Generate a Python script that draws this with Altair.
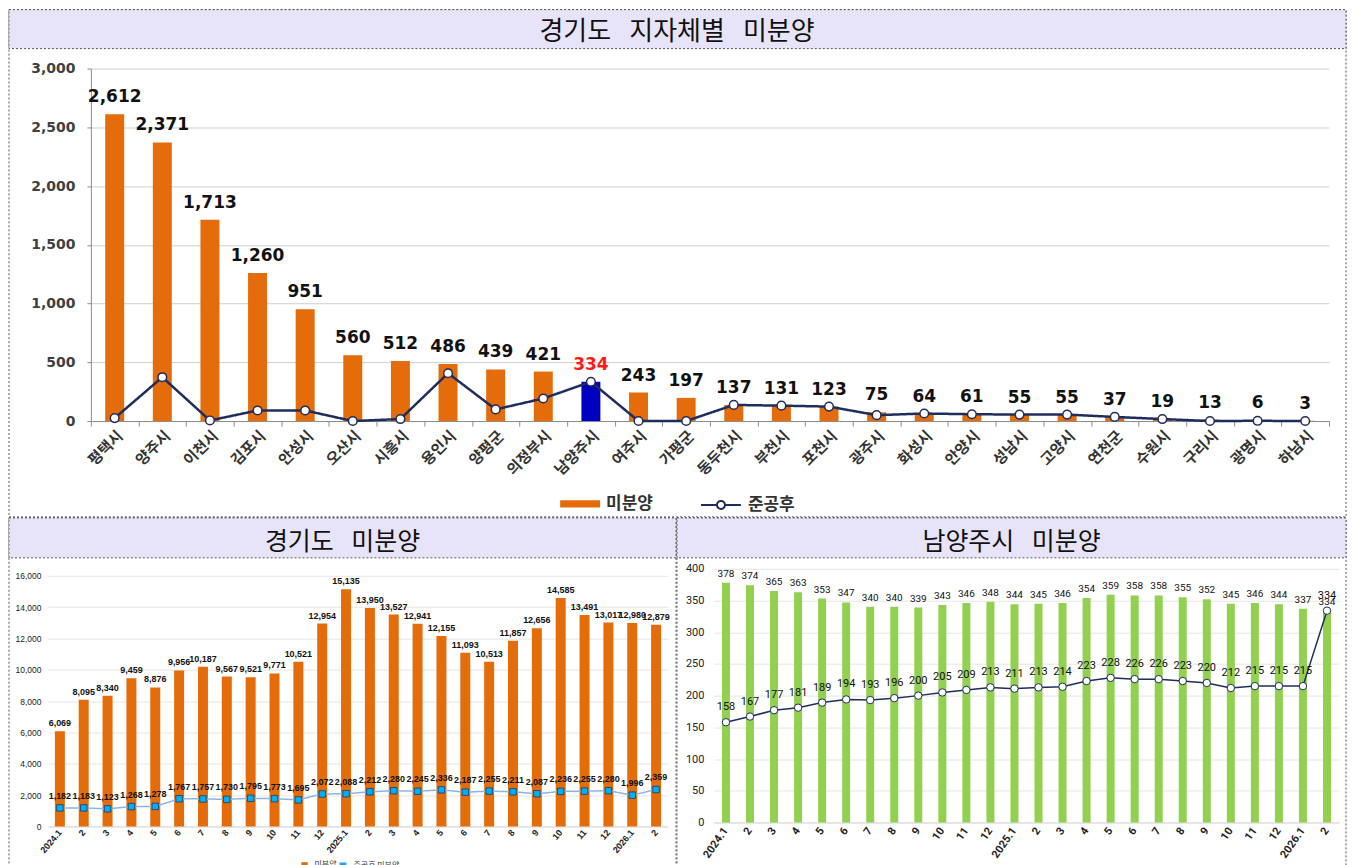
import altair as alt
import pandas as pd

# ---------------- data ----------------
cities = ["평택시", "양주시", "이천시", "김포시", "안성시", "오산시", "시흥시", "용인시",
          "양평군", "의정부시", "남양주시", "여주시", "가평군", "동두천시", "부천시", "포천시",
          "광주시", "화성시", "안양시", "성남시", "고양시", "연천군", "수원시", "구리시",
          "광명시", "하남시"]
city_unsold = [2612, 2371, 1713, 1260, 951, 560, 512, 486, 439, 421, 334, 243, 197,
               137, 131, 123, 75, 64, 61, 55, 55, 37, 19, 13, 6, 3]
city_completed = [25, 373, 5, 90, 90, 0, 17, 407, 99, 192, 334, 0, 0,
                  137, 131, 123, 50, 64, 58, 55, 55, 35, 17, 0, 2, 0]

months = ["2024.1", "2024.2", "2024.3", "2024.4", "2024.5", "2024.6", "2024.7", "2024.8",
          "2024.9", "2024.10", "2024.11", "2024.12", "2025.1", "2025.2", "2025.3", "2025.4",
          "2025.5", "2025.6", "2025.7", "2025.8", "2025.9", "2025.10", "2025.11", "2025.12",
          "2026.1", "2026.2"]
gg_unsold = [6069, 8095, 8340, 9459, 8876, 9956, 10187, 9567, 9521, 9771, 10521, 12954,
             15135, 13950, 13527, 12941, 12155, 11093, 10513, 11857, 12656, 14585, 13491,
             13017, 12980, 12879]
gg_completed = [1182, 1183, 1123, 1268, 1278, 1767, 1757, 1730, 1795, 1773, 1695, 2072,
                2088, 2212, 2280, 2245, 2336, 2187, 2255, 2211, 2087, 2236, 2255, 2280,
                1996, 2359]
nyj_unsold = [378, 374, 365, 363, 353, 347, 340, 340, 339, 343, 346, 348, 344, 345, 346,
              354, 359, 358, 358, 355, 352, 345, 346, 344, 337, 334]
nyj_completed = [158, 167, 177, 181, 189, 194, 193, 196, 200, 205, 209, 213, 211, 213, 214,
                 223, 228, 226, 226, 223, 220, 212, 215, 215, 215, 334]

# ---------------- styles ----------------
ORANGE = "#E46C0A"
NAVY = "#1F2D5C"
BLUE_BAR = "#0000C0"
GREEN = "#92D050"
LAV = "#E7E4F9"
BORDER = "#555555"
KR = "Noto Sans CJK KR"
NUM = "DejaVu Sans"
ARIAL = "Liberation Sans"
NARROW = "Liberation Sans Narrow, Roboto, sans-serif"
COMMA = "format(datum.value, ',')"
GAP = "\u2002\u2009"

one = pd.DataFrame({"k": [0]})


def frame(x1, x2, y1, y2, tb, title, tx, ty, fs):
    border = alt.Chart(one).mark_rect(filled=False, stroke=BORDER, strokeWidth=1,
                                      strokeDash=[2, 2]).encode(
        x=alt.value(x1), x2=alt.value(x2), y=alt.value(y1), y2=alt.value(y2))
    bar = alt.Chart(one).mark_rect(fill=LAV, stroke=BORDER, strokeWidth=1,
                                   strokeDash=[2, 2]).encode(
        x=alt.value(x1), x2=alt.value(x2), y=alt.value(y1), y2=alt.value(tb))
    text = alt.Chart(one).mark_text(text=title, font=KR, fontSize=fs, color="#111111",
                                    align="center", baseline="middle").encode(
        x=alt.value(tx), y=alt.value(ty))
    return [border, bar, text]


# ---------------- top panel (plot origin = page 90, 67) ----------------
TW, TH = 1240, 353
top_df = pd.DataFrame({"city": cities, "unsold": city_unsold, "done": city_completed})
top_df["s1"] = "미분양"
top_df["s2"] = "준공후"

bar_leg = alt.Legend(
    title=None, orient="none", legendX=470, legendY=416, direction="horizontal",
    labelFont=KR, labelFontSize=17, labelFontWeight="bold", labelColor="#333333",
    symbolType="M-1,-0.18H1V0.18H-1Z", symbolSize=1600, symbolStrokeWidth=0,
    labelOffset=6, padding=0)
line_leg = alt.Legend(
    title=None, orient="none", legendX=610, legendY=416, direction="horizontal",
    labelFont=KR, labelFontSize=17, labelFontWeight="bold", labelColor="#333333",
    symbolType="M-1,0H-0.2M0.2,0H1M0.2,0A0.2,0.2,0,1,1,-0.2,0A0.2,0.2,0,1,1,0.2,0Z",
    symbolSize=1600, symbolStrokeWidth=2, symbolStrokeColor=NAVY,
    symbolFillColor="#FFFFFF", labelOffset=6, padding=0)

xT = alt.X("city:N", sort=cities, title=None,
           scale=alt.Scale(paddingInner=0, paddingOuter=0),
           axis=alt.Axis(labelAngle=-45, labelFont=KR, labelFontSize=15, labelFontWeight="bold",
                         labelColor="#333333", domainColor="#8C8C8C", tickColor="#8C8C8C",
                         tickBand="extent", tickSize=5, labelPadding=2, labelOverlap=False,
                         grid=False))
yT_axis = alt.Axis(values=[0, 500, 1000, 1500, 2000, 2500, 3000], labelExpr=COMMA,
                   labelFont=NUM, labelFontSize=14, labelFontWeight="bold",
                   labelColor="#404040", gridColor="#CFCFCF", domainColor="#8C8C8C",
                   tickColor="#8C8C8C", tickSize=4, labelPadding=12)
yT_scale = alt.Scale(domain=[0, 3000], nice=False)

tbase = alt.Chart(top_df)
t_bars = tbase.mark_bar(size=19).encode(
    x=xT,
    y=alt.Y("unsold:Q", title=None, scale=yT_scale, axis=yT_axis),
    color=alt.condition("datum.city === '남양주시'", alt.value(BLUE_BAR),
                        alt.Color("s1:N", scale=alt.Scale(domain=["미분양"], range=[ORANGE]),
                                  legend=bar_leg)))
t_line = tbase.mark_line(strokeWidth=2.5, color=NAVY).encode(
    x=xT, y=alt.Y("done:Q", title=None, scale=yT_scale, axis=yT_axis),
    strokeDash=alt.StrokeDash("s2:N", scale=alt.Scale(domain=["준공후"], range=[[1, 0]]),
                              legend=line_leg))
t_pts = tbase.mark_point(filled=True, fill="white", stroke=NAVY, strokeWidth=1.5,
                         size=75, opacity=1).encode(
    x=xT, y=alt.Y("done:Q", title=None, scale=yT_scale, axis=yT_axis))
t_lbl = tbase.mark_text(dy=-8, baseline="bottom", font=NUM, fontSize=17,
                        fontWeight="bold").encode(
    x=xT, y=alt.Y("unsold:Q", title=None, scale=yT_scale, axis=yT_axis),
    text=alt.Text("unsold:Q", format=","),
    color=alt.condition("datum.city === '남양주시'", alt.value("#FF1A1A"), alt.value("#111111")))

top = alt.layer(
    *frame(-82, 1257, -59, 449, -20, "경기도" + GAP + "지자체별" + GAP + "미분양", 587, -37, 26),
    t_bars, t_line, t_pts, t_lbl
).properties(width=TW, height=TH)

# ---------------- bottom-left panel (group origin = page 90, 575) ----------------
month_label = "split(datum.value, '.')[1] === '1' ? datum.value : split(datum.value, '.')[1]"
gg_df = pd.DataFrame({"m": months, "u": gg_unsold, "d": gg_completed})
gg_df["g1"] = "미분양"
gg_df["g2"] = "준공후 미분양"
gbar_leg = alt.Legend(
    title=None, orient="none", legendX=206, legendY=282, direction="horizontal",
    labelFont=KR, labelFontSize=8, labelColor="#333333",
    symbolType="M-0.4,-0.4H0.4V0.4H-0.4Z", symbolSize=256, symbolStrokeWidth=0,
    labelOffset=2, padding=0)
gline_leg = alt.Legend(
    title=None, orient="none", legendX=244, legendY=282, direction="horizontal",
    labelFont=KR, labelFontSize=8, labelColor="#333333",
    symbolType="M-1,0H1M-0.4,-0.4H0.4V0.4H-0.4Z", symbolSize=256, symbolStrokeWidth=1,
    symbolStrokeColor="#8DB4E2", symbolFillColor="#00B0F0", labelOffset=2, padding=0)

xBL = alt.X("m:N", sort=months, title=None,
            scale=alt.Scale(range=[-43, 578], paddingInner=0, paddingOuter=0),
            axis=alt.Axis(labelExpr=month_label, labelAngle=-50, labelFont=ARIAL,
                          labelFontSize=9, labelFontWeight="bold", labelColor="#222222",
                          domainColor="#D9D9D9", ticks=False, labelPadding=4,
                          labelOverlap=False, grid=False))
yBL_scale = alt.Scale(domain=[0, 16000], nice=False)
yBL_axis = alt.Axis(values=list(range(0, 16001, 2000)), labelExpr=COMMA, labelFont=ARIAL,
                    labelFontSize=8.5, labelColor="#222222", gridColor="#E6E6E6",
                    domain=False, ticks=False, labelPadding=7, offset=43)
gbase = alt.Chart(gg_df)
g_bars = gbase.mark_bar(size=10).encode(
    x=xBL, y=alt.Y("u:Q", title=None, scale=yBL_scale, axis=yBL_axis),
    color=alt.Color("g1:N", scale=alt.Scale(domain=["미분양"], range=[ORANGE]),
                    legend=gbar_leg))
g_line = gbase.mark_line(strokeWidth=1.5, color="#8DB4E2").encode(
    x=xBL, y=alt.Y("d:Q", title=None, scale=yBL_scale, axis=yBL_axis),
    strokeDash=alt.StrokeDash("g2:N", scale=alt.Scale(domain=["준공후 미분양"], range=[[1, 0]]),
                              legend=gline_leg))
g_pts = gbase.mark_point(shape="square", filled=True, fill="#00B0F0", stroke="#1F4E79",
                         strokeWidth=1, size=42, opacity=1).encode(
    x=xBL, y=alt.Y("d:Q", title=None, scale=yBL_scale, axis=yBL_axis))
g_lbl1 = gbase.mark_text(dy=-3, baseline="bottom", font=ARIAL, fontSize=9,
                         fontWeight="bold", color="#111111").encode(
    x=xBL, y=alt.Y("u:Q", title=None, scale=yBL_scale, axis=yBL_axis),
    text=alt.Text("u:Q", format=","))
g_lbl2 = gbase.mark_text(dy=-7, baseline="bottom", font=ARIAL, fontSize=9,
                         fontWeight="bold", color="#111111").encode(
    x=xBL, y=alt.Y("d:Q", title=None, scale=yBL_scale, axis=yBL_axis),
    text=alt.Text("d:Q", format=","))

bl = alt.layer(
    *frame(-82, 586, -58, 305, -18, "경기도" + GAP + "미분양", 252, -34, 25),
    g_bars, g_line, g_pts, g_lbl1, g_lbl2
).properties(width=578, height=251)

# ---------------- bottom-right panel (group origin = page 714, 575) ----------------
ny_df = pd.DataFrame({"m": months, "u": nyj_unsold, "d": nyj_completed})
xBR = alt.X("m:N", sort=months, title=None,
            scale=alt.Scale(range=[0, 626], paddingInner=0, paddingOuter=0),
            axis=alt.Axis(labelExpr=month_label, labelAngle=-55, labelFont=NARROW,
                          labelFontSize=11, labelFontWeight="bold", labelColor="#222222",
                          domainColor="#D9D9D9", ticks=False, labelPadding=6,
                          labelOverlap=False, grid=False))
yBR_scale = alt.Scale(domain=[0, 400], range=[247, -7], nice=False)
yBR_axis = alt.Axis(values=list(range(0, 401, 50)), labelFont=NARROW, labelFontSize=11,
                    labelColor="#222222", gridColor="#E6E6E6", domain=False, ticks=False,
                    labelPadding=10)
nbase = alt.Chart(ny_df)
n_bars = nbase.mark_bar(size=8, color=GREEN).encode(
    x=xBR, y=alt.Y("u:Q", title=None, scale=yBR_scale, axis=yBR_axis))
n_line = nbase.mark_line(strokeWidth=1.5, color=NAVY).encode(
    x=xBR, y=alt.Y("d:Q", title=None, scale=yBR_scale, axis=yBR_axis))
n_pts = nbase.mark_point(filled=True, fill="white", stroke=NAVY, strokeWidth=1,
                         size=55, opacity=1).encode(
    x=xBR, y=alt.Y("d:Q", title=None, scale=yBR_scale, axis=yBR_axis))
n_lbl1 = nbase.mark_text(dy=-4, baseline="bottom", font=NARROW, fontSize=10,
                         color="#111111").encode(
    x=xBR, y=alt.Y("u:Q", title=None, scale=yBR_scale, axis=yBR_axis), text="u:Q")
n_lbl2 = nbase.mark_text(dy=-10, baseline="bottom", font=NARROW, fontSize=11,
                         color="#111111").encode(
    x=xBR, y=alt.Y("d:Q", title=None, scale=yBR_scale, axis=yBR_axis), text="d:Q")

br = alt.layer(
    *frame(-37, 633, -58, 305, -18, "남양주시" + GAP + "미분양", 298, -34, 25),
    n_bars, n_line, n_pts, n_lbl1, n_lbl2
).properties(width=626, height=247)

# ---------------- compose ----------------
bottom = alt.hconcat(bl, br, spacing=46, bounds="flush").resolve_scale(
    color="independent", strokeDash="independent", x="independent", y="independent"
).resolve_legend(color="independent", strokeDash="independent")
chart = alt.vconcat(top, bottom, spacing=155, bounds="flush").resolve_scale(
    color="independent", strokeDash="independent", x="independent", y="independent"
).resolve_legend(color="independent", strokeDash="independent").properties(
    padding=0
).configure_view(stroke=None)

chart.save("out.html", embed_options={"renderer": "svg", "actions": False})
